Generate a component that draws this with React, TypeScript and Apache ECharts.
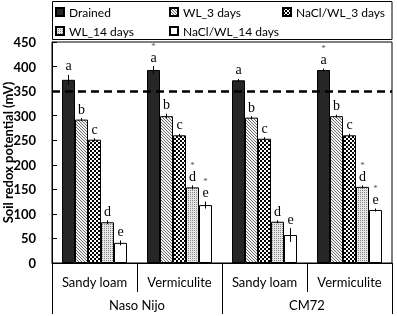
import React, { useEffect, useRef } from "react";
import * as echarts from "echarts";

const soils = ["Sandy loam", "Vermiculite", "Sandy loam", "Vermiculite"];
const genotypes = ["Naso Nijo", "CM72"];
const seriesNames = ["Drained", "WL_3 days", "NaCl/WL_3 days", "WL_14 days", "NaCl/WL_14 days"];

const drained = [373, 393, 372, 393];
const wl3 = [292, 299, 296, 299];
const nacl3 = [251, 260, 253, 260];
const wl14 = [83, 154, 84, 155];
const nacl14 = [41, 118, 57, 108];

const drainedErr = [10, 8, 3, 3];
const wl3Err = [3, 5, 3, 3];
const nacl3Err = [3, 3, 3, 3];
const wl14Err = [4, 4, 3, 3];
const nacl14Err = [5, 7, 14, 3];

const letters = ["a", "b", "c", "d", "e"];
const drainedStar = [false, true, false, true];
const wl3Star = [false, false, false, false];
const nacl3Star = [false, false, false, false];
const wl14Star = [false, true, false, true];
const nacl14Star = [false, true, false, true];

const threshold = 350;
const yMin = 0;
const yMax = 450;
const yStep = 50;

const FONT = "Lato, 'Noto Sans', sans-serif";
const SERIF = "'Liberation Serif', 'DejaVu Serif', serif";

function makeCanvas(size: number, draw: (ctx: CanvasRenderingContext2D) => void) {
  const c = document.createElement("canvas");
  c.width = size;
  c.height = size;
  const ctx = c.getContext("2d")!;
  draw(ctx);
  return c;
}

export default function App() {
  const ref = useRef<HTMLDivElement>(null);
  useEffect(() => {
    document.body.style.margin = "0";
    const chart = echarts.init(ref.current!, null, { renderer: "svg" });

    const hatch = makeCanvas(3, (ctx) => {
      ctx.fillStyle = "#f2f2f2";
      ctx.fillRect(0, 0, 3, 3);
      ctx.fillStyle = "#6e6e6e";
      for (let i = 0; i < 3; i++) ctx.fillRect(i, i, 1, 1);
    });
    const checker = makeCanvas(4, (ctx) => {
      ctx.fillStyle = "#ffffff";
      ctx.fillRect(0, 0, 4, 4);
      ctx.fillStyle = "#000000";
      ctx.fillRect(0, 0, 2, 2);
      ctx.fillRect(2, 2, 2, 2);
    });
    const dots = makeCanvas(2, (ctx) => {
      ctx.fillStyle = "#e6e6e6";
      ctx.fillRect(0, 0, 2, 2);
      ctx.fillStyle = "#888888";
      ctx.fillRect(0, 0, 1, 1);
    });
    const pat = (c: HTMLCanvasElement) => ({
      image: c.toDataURL(),
      repeat: "repeat",
      imageWidth: c.width,
      imageHeight: c.height,
    });

    const values = [drained, wl3, nacl3, wl14, nacl14];
    const errs = [drainedErr, wl3Err, nacl3Err, wl14Err, nacl14Err];
    const stars = [drainedStar, wl3Star, nacl3Star, wl14Star, nacl14Star];
    const fills: any[] = ["#262626", pat(hatch), pat(checker), pat(dots), "#ffffff"];
    const barW = 13;

    const barSeries = seriesNames.map((name, k) => ({
      type: "bar",
      name,
      xAxisIndex: 0,
      data: values[k],
      barWidth: barW,
      barGap: "0%",
      itemStyle: { color: fills[k], borderColor: "#000", borderWidth: 1 },
      markLine:
        k === 0
          ? {
              silent: true,
              symbol: ["none", "none"],
              label: { show: false },
              lineStyle: { color: "#000", type: [8, 5], width: 2.5 },
              data: [{ yAxis: threshold }],
            }
          : undefined,
    }));

    const annSeries = seriesNames.map((name, k) => ({
      type: "custom",
      name: name + "_ann",
      xAxisIndex: 0,
      z: 5,
      silent: true,
      data: values[k].map((v, i) => [i, v, errs[k][i]]),
      encode: { x: 0, y: 1 },
      renderItem: (params: any, api: any) => {
        const i = params.dataIndex;
        const v = api.value(1);
        const e = api.value(2);
        const top = api.coord([i, v + e]);
        const bot = api.coord([i, v - e]);
        const x = top[0] + (k - 2) * barW;
        const children: any[] = [
          {
            type: "line",
            shape: { x1: x, y1: top[1], x2: x, y2: bot[1] },
            style: { stroke: "#000", lineWidth: 1 },
          },
          {
            type: "text",
            x,
            y: top[1] - 2,
            style: {
              text: letters[k],
              fill: "#000",
              font: `14px ${SERIF}`,
              align: "center",
              verticalAlign: "bottom",
            },
          },
        ];
        if (stars[k][i]) {
          children.push({
            type: "text",
            x,
            y: top[1] - 16,
            style: {
              text: "*",
              fill: "#555",
              font: `9px ${SERIF}`,
              align: "center",
              verticalAlign: "bottom",
            },
          });
        }
        return { type: "group", children };
      },
    }));

    const legendPos = [
      [55, 5],
      [169, 5],
      [282, 5],
      [55, 24],
      [169, 24],
    ];

    const option: any = {
      animation: false,
      textStyle: { fontFamily: FONT },
      grid: {
        left: 52,
        right: 5,
        top: 42,
        bottom: 53,
        show: true,
        borderColor: "#000",
        borderWidth: 1,
        backgroundColor: "transparent",
        containLabel: false,
        outerBoundsMode: "none",
      },
      legend: seriesNames.map((name, k) => ({
        data: [name],
        left: legendPos[k][0],
        top: legendPos[k][1],
        padding: 0,
        icon: "rect",
        itemWidth: 8,
        itemHeight: 8,
        selectedMode: false,
        textStyle: { fontFamily: FONT, fontSize: 12, color: "#000", lineHeight: 14 },
      })),
      graphic: [
        {
          type: "rect",
          shape: { x: 52.5, y: 1.5, width: 339.5, height: 38 },
          style: { fill: "none", stroke: "#000", lineWidth: 1 },
          z: 10,
        },
      ],
      xAxis: [
        {
          type: "category",
          data: soils,
          position: "bottom",
          offset: 0,
          axisLine: { show: true, lineStyle: { color: "#000", width: 1 } },
          axisTick: { show: true, alignWithLabel: false, interval: 0, length: 29, lineStyle: { color: "#000" } },
          axisLabel: { interval: 0, margin: 12, fontFamily: FONT, fontSize: 13, color: "#000" },
          splitLine: { show: false },
        },
        {
          type: "category",
          data: genotypes,
          position: "bottom",
          offset: 0,
          axisLine: { show: false },
          axisTick: { show: true, alignWithLabel: false, interval: 0, length: 51, lineStyle: { color: "#000" } },
          axisLabel: { interval: 0, margin: 35, fontFamily: FONT, fontSize: 13, color: "#000" },
          splitLine: { show: false },
        },
      ],
      yAxis: {
        type: "value",
        min: yMin,
        max: yMax,
        interval: yStep,
        name: "Soil redox potential (mV)",
        nameLocation: "middle",
        nameGap: 38,
        nameMoveOverlap: false,
        nameTextStyle: { fontFamily: FONT, fontSize: 13, fontWeight: "bold", color: "#000" },
        axisLine: { show: true, lineStyle: { color: "#000", width: 1 } },
        axisTick: { show: true, inside: true, length: 5, lineStyle: { color: "#000" } },
        axisLabel: { margin: 16, fontFamily: FONT, fontSize: 13, fontWeight: "bold", color: "#000" },
        splitLine: { show: false },
      },
      series: [...barSeries, ...annSeries],
    };

    chart.setOption(option);
    return () => chart.dispose();
  }, []);
  return <div ref={ref} style={{ position: "fixed", left: 0, top: 0, width: 397, height: 316 }} />;
}
